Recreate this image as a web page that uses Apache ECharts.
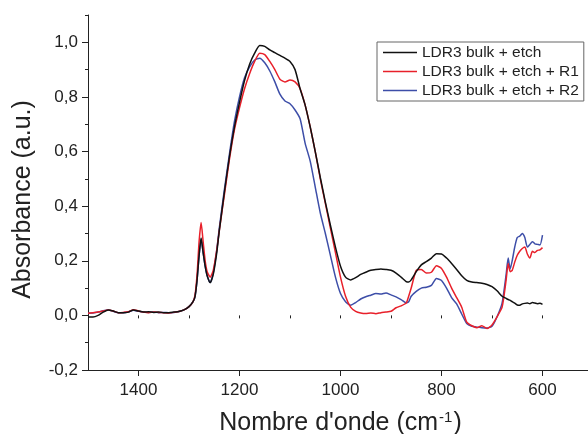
<!DOCTYPE html>
<html>
<head>
<meta charset="utf-8">
<script src="https://cdn.jsdelivr.net/npm/echarts@6/dist/echarts.min.js"></script>
<style>
html,body{margin:0;padding:0;background:#fff;}
#chart{width:588px;height:434px;}
</style>
</head>
<body>
<div id="chart"></div>
<script>
const wavenumbers = [1500,1490,1480,1470,1460,1450,1440,1430,1420,1410,1400,1390,1380,1370,1360,1350,1340,1330,1320,1310,1300,1292,1288,1284,1280,1276,1272,1268,1264,1258,1252,1245,1240,1230,1220,1210,1200,1190,1180,1170,1160,1150,1140,1130,1120,1110,1100,1090,1080,1070,1060,1050,1040,1030,1020,1010,1000,990,980,970,960,950,940,930,920,910,900,890,880,870,865,860,850,840,830,820,810,800,790,780,770,760,750,740,730,720,710,700,690,680,672,668,664,660,655,650,645,640,635,630,625,620,615,610,605,600];

const bulkEtch = [-0.006,-0.006,0.000,0.012,0.02,0.016,0.01,0.01,0.012,0.02,0.016,0.012,0.013,0.011,0.012,0.01,0.01,0.012,0.014,0.02,0.032,0.05,0.07,0.13,0.22,0.283,0.23,0.18,0.145,0.12,0.15,0.23,0.31,0.45,0.58,0.69,0.78,0.86,0.92,0.96,0.988,0.985,0.972,0.962,0.952,0.942,0.93,0.90,0.83,0.77,0.69,0.60,0.505,0.415,0.33,0.25,0.18,0.14,0.13,0.138,0.15,0.158,0.165,0.168,0.17,0.168,0.165,0.155,0.14,0.124,0.122,0.13,0.16,0.185,0.197,0.21,0.226,0.225,0.21,0.19,0.168,0.145,0.128,0.122,0.12,0.118,0.113,0.105,0.09,0.07,0.062,0.058,0.055,0.05,0.045,0.038,0.037,0.042,0.044,0.045,0.043,0.047,0.045,0.043,0.044,0.04];

const bulkEtchR1 = [0.008,0.01,0.012,0.016,0.02,0.016,0.01,0.011,0.013,0.021,0.016,0.012,0.01,0.012,0.011,0.01,0.009,0.011,0.014,0.02,0.032,0.05,0.075,0.15,0.27,0.34,0.27,0.2,0.16,0.14,0.165,0.24,0.31,0.44,0.57,0.68,0.76,0.83,0.885,0.93,0.96,0.955,0.93,0.90,0.865,0.855,0.862,0.855,0.83,0.77,0.69,0.60,0.50,0.41,0.32,0.23,0.14,0.07,0.03,0.015,0.009,0.007,0.009,0.006,0.01,0.012,0.015,0.028,0.035,0.045,0.07,0.1,0.165,0.168,0.155,0.158,0.182,0.172,0.14,0.1,0.065,0.03,-0.025,-0.038,-0.045,-0.038,-0.048,-0.035,-0.005,0.03,0.13,0.19,0.16,0.165,0.195,0.22,0.235,0.245,0.25,0.225,0.21,0.235,0.23,0.238,0.24,0.248];

const bulkEtchR2 = [0.008,0.009,0.012,0.017,0.02,0.015,0.01,0.01,0.013,0.019,0.015,0.012,0.011,0.012,0.01,0.011,0.01,0.011,0.014,0.02,0.032,0.05,0.07,0.13,0.22,0.28,0.23,0.18,0.145,0.12,0.155,0.24,0.32,0.46,0.59,0.71,0.80,0.87,0.91,0.935,0.942,0.925,0.895,0.855,0.81,0.785,0.775,0.752,0.72,0.63,0.565,0.47,0.375,0.30,0.22,0.14,0.08,0.05,0.037,0.047,0.06,0.068,0.074,0.08,0.078,0.082,0.075,0.068,0.058,0.046,0.05,0.07,0.088,0.1,0.103,0.11,0.135,0.128,0.1,0.065,0.042,0.005,-0.03,-0.04,-0.043,-0.045,-0.046,-0.04,-0.005,0.045,0.15,0.21,0.17,0.2,0.25,0.285,0.29,0.30,0.285,0.25,0.26,0.27,0.262,0.26,0.258,0.294];

const seriesNames = ['LDR3 bulk + etch', 'LDR3 bulk + etch + R1', 'LDR3 bulk + etch + R2'];
const xMajorTicks = [600, 800, 1000, 1200, 1400];
const yMajorTicks = [-0.2, 0, 0.2, 0.4, 0.6, 0.8, 1.0];

const colors = ['#111111', '#e8202a', '#3d4ea8'];
const font = 'Liberation Sans, Arial, sans-serif';

function pairs(vals) { return wavenumbers.map((w, i) => [w, vals[i]]); }

const chart = echarts.init(document.getElementById('chart'), null, {renderer: 'canvas'});
const gridPos = {left: 88, right: -5, top: 15, bottom: 64, containLabel: false, outerBoundsMode: 'none'};
const option = {
  backgroundColor: '#ffffff',
  animation: false,
  grid: [Object.assign({}, gridPos), Object.assign({}, gridPos)],
  legend: {
    orient: 'vertical',
    left: 377, top: 42,
    borderColor: '#666', borderWidth: 1,
    padding: [2, 5, 2, 6],
    icon: 'rect',
    itemWidth: 34, itemHeight: 1.6, itemGap: 2,
    textStyle: {fontFamily: font, fontSize: 15.5, color: '#222', lineHeight: 17},
    data: seriesNames
  },
  xAxis: [{
    type: 'value', gridIndex: 0, inverse: true, min: 500, max: 1500,
    axisLine: {show: true, onZero: false, lineStyle: {color: '#222', width: 1}},
    axisTick: {show: true, customValues: xMajorTicks, length: 6, lineStyle: {color: '#222'}},
    axisLabel: {customValues: xMajorTicks, fontFamily: font, fontSize: 17, color: '#222', margin: 12,
      formatter: v => String(v)},
    splitLine: {show: false},
    name: '{a|Nombre d\'onde (cm}{s|-1}{a|)}',
    nameLocation: 'middle', nameGap: 40,
    nameTextStyle: {rich: {
      a: {fontFamily: font, fontSize: 25, color: '#222'},
      s: {fontFamily: font, fontSize: 15, color: '#222', verticalAlign: 'top', padding: [0, 1, 12, 1]}
    }}
  }, {
    type: 'value', gridIndex: 1, inverse: true, min: 500, max: 1500, interval: 100,
    axisLine: {show: false},
    axisTick: {show: true, length: 3, lineStyle: {color: '#222'}},
    axisLabel: {show: false}, splitLine: {show: false}
  }],
  yAxis: [{
    type: 'value', gridIndex: 0, min: -0.2, max: 1.1,
    axisLine: {show: true, onZero: false, lineStyle: {color: '#222', width: 1}},
    axisTick: {show: true, customValues: yMajorTicks, length: 6, lineStyle: {color: '#222'}},
    axisLabel: {customValues: yMajorTicks, fontFamily: font, fontSize: 17, color: '#222', margin: 10,
      formatter: v => v.toFixed(1).replace('.', ',')},
    splitLine: {show: false},
    name: 'Absorbance (a.u.)', nameLocation: 'middle', nameGap: 52, nameRotate: 90,
    nameTextStyle: {fontFamily: font, fontSize: 25, color: '#222', padding: [0, 14, 0, 0]}
  }, {
    type: 'value', gridIndex: 1, min: -0.2, max: 1.1, interval: 0.1,
    axisLine: {show: false},
    axisTick: {show: true, length: 3, lineStyle: {color: '#222'}},
    axisLabel: {show: false}, splitLine: {show: false}
  }],
  series: [bulkEtch, bulkEtchR1, bulkEtchR2].map((vals, i) => ({
    name: seriesNames[i], type: 'line', xAxisIndex: 0, yAxisIndex: 0,
    data: pairs(vals), showSymbol: false, symbol: 'none', smooth: 0.2,
    lineStyle: {color: colors[i], width: 1.5}, itemStyle: {color: colors[i]},
    z: 3 - i
  }))
};
chart.setOption(option);
</script>
</body>
</html>
